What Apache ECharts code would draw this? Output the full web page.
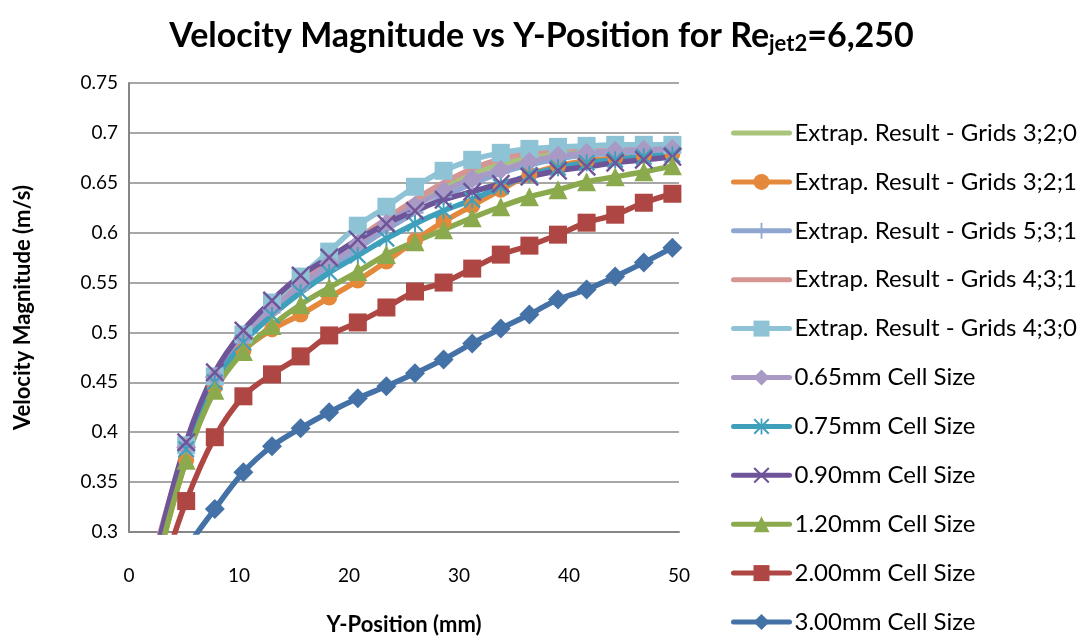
<!DOCTYPE html>
<html>
<head>
<meta charset="utf-8">
<script src="https://cdn.jsdelivr.net/npm/echarts@6/dist/echarts.min.js"></script>
<style>
html,body{margin:0;padding:0;background:#fff;}
#chart{width:1083px;height:642px;}
</style>
</head>
<body>
<div id="chart"></div>
<script>
// ---- data ----
var yPositions = [2.6, 5.2, 7.8, 10.4, 13.0, 15.6, 18.2, 20.8, 23.4, 26.0, 28.6, 31.2, 33.8, 36.4, 39.0, 41.6, 44.2, 46.8, 49.4];
var seriesNames = [
  'Extrap. Result - Grids 3;2;0',
  'Extrap. Result - Grids 3;2;1',
  'Extrap. Result - Grids 5;3;1',
  'Extrap. Result - Grids 4;3;1',
  'Extrap. Result - Grids 4;3;0',
  '0.65mm Cell Size',
  '0.75mm Cell Size',
  '0.90mm Cell Size',
  '1.20mm Cell Size',
  '2.00mm Cell Size',
  '3.00mm Cell Size'
];
var ext320 = [0.28, 0.378, 0.452, 0.492, 0.52, 0.543, 0.565, 0.587, 0.608, 0.627, 0.645, 0.659, 0.669, 0.675, 0.679, 0.681, 0.682, 0.683, 0.683];
var ext321 = [0.27, 0.372, 0.445, 0.482, 0.503, 0.518, 0.535, 0.552, 0.571, 0.592, 0.611, 0.627, 0.643, 0.658, 0.667, 0.672, 0.675, 0.677, 0.679];
var ext531 = [0.28, 0.38, 0.452, 0.492, 0.52, 0.543, 0.564, 0.584, 0.603, 0.62, 0.636, 0.649, 0.66, 0.668, 0.674, 0.678, 0.68, 0.681, 0.682];
var ext431 = [0.29, 0.386, 0.457, 0.498, 0.527, 0.551, 0.573, 0.594, 0.614, 0.633, 0.65, 0.664, 0.674, 0.68, 0.684, 0.686, 0.687, 0.687, 0.687];
var ext430 = [0.285, 0.387, 0.456, 0.498, 0.53, 0.556, 0.581, 0.607, 0.626, 0.646, 0.662, 0.673, 0.68, 0.684, 0.686, 0.687, 0.688, 0.688, 0.688];
var cell065 = [0.28, 0.385, 0.455, 0.495, 0.523, 0.547, 0.569, 0.589, 0.609, 0.627, 0.642, 0.654, 0.663, 0.671, 0.677, 0.68, 0.682, 0.683, 0.684];
var cell075 = [0.28, 0.383, 0.45, 0.49, 0.517, 0.54, 0.56, 0.577, 0.594, 0.609, 0.622, 0.633, 0.646, 0.658, 0.665, 0.67, 0.673, 0.676, 0.678];
var cell090 = [0.285, 0.39, 0.46, 0.502, 0.532, 0.557, 0.575, 0.593, 0.609, 0.622, 0.633, 0.641, 0.649, 0.656, 0.662, 0.666, 0.67, 0.673, 0.676];
var cell120 = [0.27, 0.372, 0.442, 0.481, 0.507, 0.528, 0.545, 0.561, 0.578, 0.591, 0.603, 0.615, 0.626, 0.636, 0.643, 0.651, 0.656, 0.661, 0.667];
var cell200 = [0.245, 0.331, 0.395, 0.436, 0.458, 0.476, 0.497, 0.51, 0.525, 0.541, 0.55, 0.564, 0.578, 0.587, 0.598, 0.61, 0.618, 0.63, 0.639];
var cell300 = [0.22, 0.282, 0.323, 0.36, 0.386, 0.404, 0.42, 0.434, 0.446, 0.459, 0.473, 0.489, 0.504, 0.518, 0.533, 0.543, 0.556, 0.57, 0.585];
var xTicks = [0, 10, 20, 30, 40, 50];
var yTicks = [0.3, 0.35, 0.4, 0.45, 0.5, 0.55, 0.6, 0.65, 0.7, 0.75];

// ---- styling ----
var FONT = 'Lato';
var X_SYM = 'path://M0,0.9L0.9,0L5,4.1L9.1,0L10,0.9L5.9,5L10,9.1L9.1,10L5,5.9L0.9,10L0,9.1L4.1,5Z';
var AST_SYM = 'path://M0,0.9L0.9,0L5,4.1L9.1,0L10,0.9L5.9,5L10,9.1L9.1,10L5,5.9L0.9,10L0,9.1L4.1,5ZM4.45,0L5.55,0L5.55,10L4.45,10Z';
var PLUS_SYM = 'path://M4.45,0L5.55,0L5.55,4.45L10,4.45L10,5.55L5.55,5.55L5.55,10L4.45,10L4.45,5.55L0,5.55L0,4.45L4.45,4.45Z';

var styles = [
  {data: ext320, color: '#A8C47B', symbol: 'none', size: 0},
  {data: ext321, color: '#E4893C', symbol: 'circle', size: 16},
  {data: ext531, color: '#8FA6D1', symbol: PLUS_SYM, size: 17},
  {data: ext431, color: '#D59592', symbol: 'none', size: 0},
  {data: ext430, color: '#8EC3D6', symbol: 'rect', size: 18},
  {data: cell065, color: '#A99AC5', symbol: 'diamond', size: 20},
  {data: cell075, color: '#3FA0BB', symbol: AST_SYM, size: 17},
  {data: cell090, color: '#6E5499', symbol: X_SYM, size: 19},
  {data: cell120, color: '#8BAA4E', symbol: 'triangle', size: 19},
  {data: cell200, color: '#AE4643', symbol: 'rect', size: 18},
  {data: cell300, color: '#4472A7', symbol: 'diamond', size: 20}
];

var series = styles.map(function (s, i) {
  return {
    name: seriesNames[i],
    type: 'line',
    smooth: 0.35,
    clip: true,
    data: yPositions.map(function (x, k) { return [x, s.data[k]]; }),
    symbol: s.symbol,
    symbolSize: s.size,
    showSymbol: s.symbol !== 'none',
    lineStyle: {color: s.color, width: 5.5},
    itemStyle: {color: s.color},
    emphasis: {disabled: true},
    animation: false
  };
});

var legendData = seriesNames.map(function (n, i) {
  return styles[i].symbol === 'none' ? {name: n, itemStyle: {opacity: 0}} : {name: n};
});

var chart = echarts.init(document.getElementById('chart'), null, {renderer: 'canvas'});
chart.setOption({
  backgroundColor: '#ffffff',
  animation: false,
  title: {
    text: '{m|Velocity Magnitude vs Y-Position for Re}{s|jet2}{m|=6,250}',
    left: 'center',
    top: 10,
    textStyle: {
      rich: {
        m: {fontFamily: FONT, fontWeight: 'bold', fontSize: 34, color: '#000', lineHeight: 42},
        s: {fontFamily: FONT, fontWeight: 'bold', fontSize: 22, color: '#000', lineHeight: 42, padding: [16, 0, 0, 0]}
      }
    }
  },
  grid: {left: 129, right: 404, top: 83, bottom: 110, containLabel: false},
  legend: {
    orient: 'vertical',
    left: 731,
    top: 121,
    padding: 0,
    itemWidth: 56,
    itemHeight: 20,
    itemGap: 24.9,
    selectedMode: false,
    lineStyle: {width: 5, cap: 'round'},
    textStyle: {fontFamily: FONT, fontSize: 24, color: '#000', lineHeight: 24},
    data: legendData
  },
  xAxis: {
    type: 'value',
    min: 0,
    max: 50,
    interval: 10,
    name: 'Y-Position (mm)',
    nameLocation: 'middle',
    nameGap: 82,
    nameTextStyle: {fontFamily: FONT, fontWeight: 'bold', fontSize: 22, color: '#000'},
    axisLine: {show: true, lineStyle: {color: '#868686', width: 2}},
    axisTick: {show: false},
    splitLine: {show: false},
    axisLabel: {fontFamily: FONT, fontSize: 19, color: '#000', margin: 34}
  },
  yAxis: {
    type: 'value',
    min: 0.3,
    max: 0.75,
    interval: 0.05,
    name: 'Velocity Magnitude (m/s)',
    nameLocation: 'middle',
    nameGap: 95,
    nameTextStyle: {fontFamily: FONT, fontWeight: 'bold', fontSize: 22, color: '#000'},
    axisLine: {show: true, lineStyle: {color: '#868686', width: 2}},
    axisTick: {show: false},
    splitLine: {show: true, lineStyle: {color: '#8a8a8a', width: 1.6}},
    axisLabel: {
      fontFamily: FONT, fontSize: 19, color: '#000', margin: 11,
      formatter: function (v) { return String(parseFloat(v.toFixed(2))); }
    }
  },
  series: series
});
</script>
</body>
</html>
